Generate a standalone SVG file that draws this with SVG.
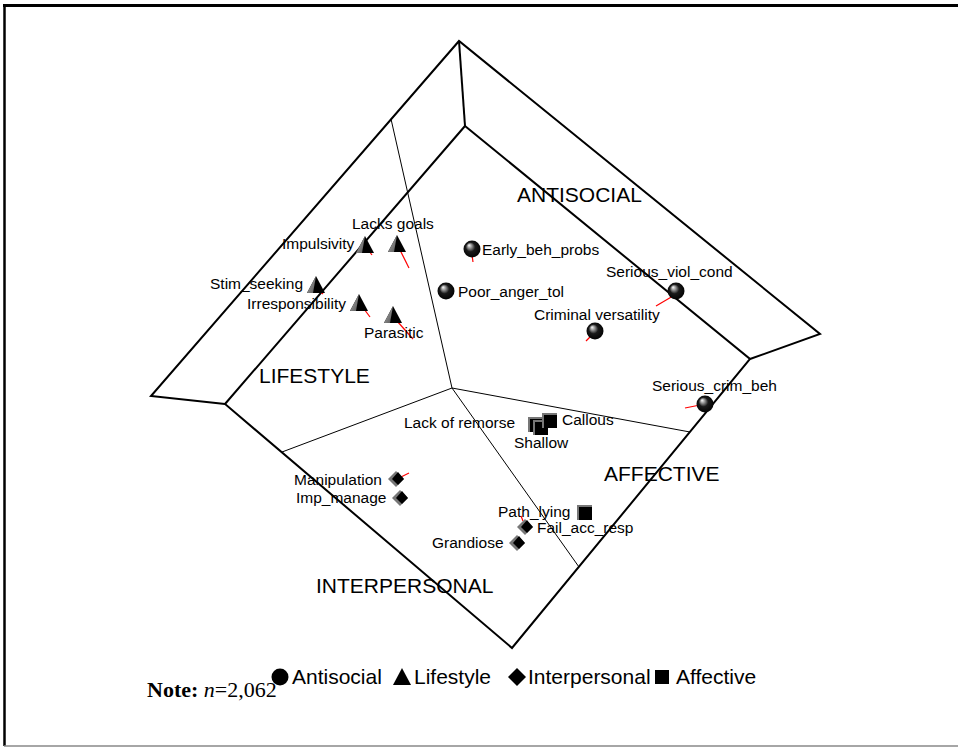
<svg xmlns="http://www.w3.org/2000/svg" width="958" height="750" viewBox="0 0 958 750">
  <defs>
    <style>
      .lbl { font-family: "Liberation Sans", Arial, sans-serif; font-size: 15.5px; fill: #000; }
      .region { font-family: "Liberation Sans", Arial, sans-serif; font-size: 21px; fill: #000; }
      .legend { font-family: "Liberation Sans", Arial, sans-serif; font-size: 21px; fill: #000; }
      .note { font-family: "Liberation Serif", "Times New Roman", serif; font-size: 22px; fill: #000; }
      .thick { fill: none; stroke: #000; stroke-width: 2; stroke-linejoin: miter; }
      .thin { fill: none; stroke: #000; stroke-width: 1; }
      .vec { stroke: #ff0000; stroke-width: 1.2; }
    </style>
    <radialGradient id="ball" cx="0.5" cy="0.5" r="0.55" fx="0.32" fy="0.27">
      <stop offset="0" stop-color="#ffffff"/>
      <stop offset="0.22" stop-color="#9a9a9a"/>
      <stop offset="0.5" stop-color="#1a1a1a"/>
      <stop offset="1" stop-color="#000000"/>
    </radialGradient>
    <linearGradient id="face" x1="0" y1="0" x2="1" y2="1">
      <stop offset="0" stop-color="#b0b0b0"/>
      <stop offset="1" stop-color="#555555"/>
    </linearGradient>
    <!-- antisocial: shaded ball -->
    <g id="mk-ball">
      <circle cx="0" cy="0" r="8.5" fill="url(#ball)"/>
    </g>
    <!-- lifestyle: pyramid with lit left face -->
    <g id="mk-tri">
      <polygon points="0,-9 9,8 -9,8" fill="#000"/>
      <polygon points="0,-9 -9,8 -3,8" fill="url(#face)"/>
    </g>
    <!-- interpersonal: bevelled diamond -->
    <g id="mk-dia">
      <polygon points="-1,-8 7,0 -1,8 -9,0" fill="#777"/>
      <polygon points="1,-7 7,0 1,6 -5,0" fill="#000"/>
    </g>
    <!-- affective: bevelled square -->
    <g id="mk-sq">
      <rect x="-8" y="-8" width="15" height="15" fill="#777"/>
      <rect x="-6" y="-6" width="13" height="13" fill="#000"/>
    </g>
  </defs>

  <rect x="0" y="0" width="958" height="750" fill="#fff"/>

  <!-- frame -->
  <g id="frame">
    <line x1="3" y1="5.5" x2="958" y2="5.5" stroke="#000" stroke-width="3"/>
    <line x1="4.5" y1="5" x2="4.5" y2="746" stroke="#000" stroke-width="2.5"/>
    <line x1="4" y1="746" x2="958" y2="746" stroke="#888" stroke-width="1.5"/>
  </g>

  <!-- quadrant outline and dividers -->
  <g id="connectors">
    <polyline class="thick" points="225,404 151,396 459,41 820,334 750,359"/>
    <line class="thick" x1="459" y1="41" x2="465" y2="126"/>
    <polygon class="thick" points="465,126 750,359 512,648 225,404"/>
    <line class="thin" x1="391" y1="119" x2="452" y2="388"/>
    <line class="thin" x1="452" y1="388" x2="282" y2="452"/>
    <line class="thin" x1="452" y1="388" x2="690" y2="432"/>
    <line class="thin" x1="452" y1="388" x2="579" y2="567"/>
  </g>

  <!-- region names -->
  <g id="regions">
    <text class="region" x="517" y="202">ANTISOCIAL</text>
    <text class="region" x="259" y="383">LIFESTYLE</text>
    <text class="region" x="604" y="481">AFFECTIVE</text>
    <text class="region" x="316" y="593">INTERPERSONAL</text>
  </g>

  <!-- antisocial items -->
  <g id="early-beh-probs">
    <line class="vec" x1="472" y1="255" x2="473" y2="262"/>
    <use href="#mk-ball" x="472" y="249"/>
    <text class="lbl" x="482" y="255">Early_beh_probs</text>
  </g>
  <g id="poor-anger-tol">
    <use href="#mk-ball" x="446" y="291"/>
    <text class="lbl" x="458" y="297">Poor_anger_tol</text>
  </g>
  <g id="serious-viol-cond">
    <line class="vec" x1="673" y1="296" x2="656" y2="306"/>
    <use href="#mk-ball" x="676" y="291"/>
    <text class="lbl" x="606" y="277">Serious_viol_cond</text>
  </g>
  <g id="criminal-versatility">
    <line class="vec" x1="592" y1="335" x2="586" y2="341"/>
    <use href="#mk-ball" x="595" y="331"/>
    <text class="lbl" x="534" y="320">Criminal versatility</text>
  </g>
  <g id="serious-crim-beh">
    <line class="vec" x1="700" y1="405" x2="685" y2="408"/>
    <use href="#mk-ball" x="705" y="404"/>
    <text class="lbl" x="652" y="391">Serious_crim_beh</text>
  </g>

  <!-- lifestyle items -->
  <g id="lacks-goals">
    <line class="vec" x1="400" y1="250" x2="409" y2="268"/>
    <use href="#mk-tri" x="397" y="244"/>
    <text class="lbl" x="352" y="229">Lacks goals</text>
  </g>
  <g id="impulsivity">
    <line class="vec" x1="369" y1="251" x2="372" y2="255"/>
    <use href="#mk-tri" x="365" y="245"/>
    <text class="lbl" x="282" y="249">Impulsivity</text>
  </g>
  <g id="stim-seeking">
    <line class="vec" x1="320" y1="291" x2="323" y2="294"/>
    <use href="#mk-tri" x="316" y="285"/>
    <text class="lbl" x="210" y="289">Stim_seeking</text>
  </g>
  <g id="irresponsibility">
    <line class="vec" x1="364" y1="309" x2="370" y2="317"/>
    <use href="#mk-tri" x="359" y="303"/>
    <text class="lbl" x="247" y="309">Irresponsibility</text>
  </g>
  <g id="parasitic">
    <line class="vec" x1="397" y1="321" x2="413" y2="339"/>
    <use href="#mk-tri" x="393" y="315"/>
    <text class="lbl" x="364" y="338">Parasitic</text>
  </g>

  <!-- affective items -->
  <g id="lack-of-remorse">
    <use href="#mk-sq" x="536" y="425"/>
    <text class="lbl" x="404" y="428">Lack of remorse</text>
  </g>
  <g id="shallow">
    <use href="#mk-sq" x="541" y="428"/>
    <text class="lbl" x="514" y="448">Shallow</text>
  </g>
  <g id="callous">
    <use href="#mk-sq" x="550" y="421"/>
    <text class="lbl" x="562" y="425">Callous</text>
  </g>
  <g id="path-lying">
    <use href="#mk-sq" x="585" y="513"/>
    <text class="lbl" x="498" y="517">Path_lying</text>
  </g>

  <!-- interpersonal items -->
  <g id="manipulation">
    <line class="vec" x1="401" y1="477" x2="409" y2="473"/>
    <use href="#mk-dia" x="397" y="479"/>
    <text class="lbl" x="294" y="485">Manipulation</text>
  </g>
  <g id="imp-manage">
    <use href="#mk-dia" x="401" y="498"/>
    <text class="lbl" x="296" y="503">Imp_manage</text>
  </g>
  <g id="fail-acc-resp">
    <line class="vec" x1="523" y1="521" x2="521" y2="516"/>
    <use href="#mk-dia" x="526" y="527"/>
    <text class="lbl" x="537" y="533">Fail_acc_resp</text>
  </g>
  <g id="grandiose">
    <use href="#mk-dia" x="518" y="543"/>
    <text class="lbl" x="432" y="548">Grandiose</text>
  </g>

  <!-- key -->
  <g id="legend">
    <circle cx="280" cy="677" r="8.5" fill="#000"/>
    <text class="legend" x="292" y="684">Antisocial</text>
    <polygon points="402,668 411,685 393,685" fill="#000"/>
    <text class="legend" x="414" y="684">Lifestyle</text>
    <polygon points="517,668 526,677 517,686 508,677" fill="#000"/>
    <text class="legend" x="528" y="684">Interpersonal</text>
    <rect x="655" y="670" width="14" height="14" fill="#000"/>
    <text class="legend" x="676" y="684">Affective</text>
  </g>

  <g id="note">
    <text class="note" x="147" y="697"><tspan font-weight="bold">Note:</tspan> <tspan font-style="italic">n</tspan>=2,062</text>
  </g>
</svg>
